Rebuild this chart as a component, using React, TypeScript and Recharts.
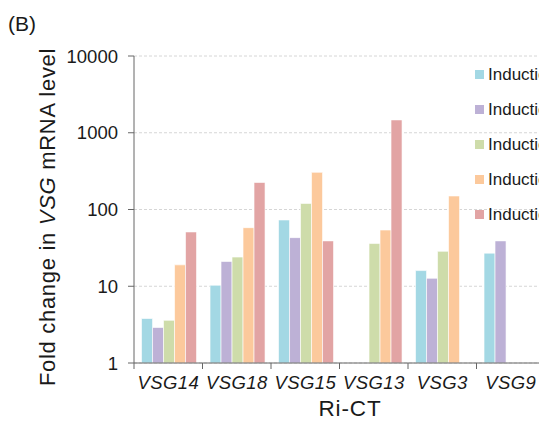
import React from 'react';
import { BarChart, Bar, XAxis, YAxis, CartesianGrid } from 'recharts';

const categories = ['VSG14', 'VSG18', 'VSG15', 'VSG13', 'VSG3', 'VSG9'];
const induction1 = [3.8, 10.3, 73, null, 16, 27];
const induction2 = [2.9, 21, 43, null, 12.7, 39];
const induction3 = [3.6, 24, 120, 36, 28.5, null];
const induction4 = [19, 58, 305, 54, 150, null];
const induction5 = [51, 225, 39, 1470, null, null];
const seriesNames = ['Induction day 1', 'Induction day 2', 'Induction day 3', 'Induction day 4', 'Induction day 5'];
const yTicks = [1, 10, 100, 1000, 10000];

const colors = ['#a3d8e4', '#bdb1d6', '#cedcaa', '#fcc99c', '#e2a4a4'];
const FONT = '"Liberation Sans", Arial, Helvetica, sans-serif';

const data = categories.map((c, i) => ({
  name: c,
  s1: induction1[i],
  s2: induction2[i],
  s3: induction3[i],
  s4: induction4[i],
  s5: induction5[i],
}));

const TICK_SIZE = 6;
const TICK_MARGIN = 4;

const XTick = (props: any) => {
  const { x, y, payload, index, visibleTicksCount } = props;
  const off = payload && typeof payload.offset === 'number' ? payload.offset : 0;
  const axisY = y - TICK_SIZE - TICK_MARGIN;
  const isLast = index === (visibleTicksCount ?? categories.length) - 1;
  return (
    <g>
      <line x1={x - off} x2={x - off} y1={axisY} y2={axisY + TICK_SIZE} stroke="#666" strokeWidth={1} />
      {isLast && (
        <line x1={x + off} x2={x + off} y1={axisY} y2={axisY + TICK_SIZE} stroke="#666" strokeWidth={1} />
      )}
      <text
        x={x}
        y={axisY + 26}
        textAnchor="middle"
        fontSize={18.5}
        letterSpacing={0.4}
        fontStyle="italic"
        fontFamily={FONT}
        fill="#1a1a1a"
      >
        {payload.value}
      </text>
    </g>
  );
};

export default function App() {
  return (
    <div style={{ width: 580, height: 409, overflow: 'hidden', position: 'relative' }}>
      <style>{'html, body { overflow: hidden; }'}</style>
      <div
        style={{
          position: 'absolute',
          left: 0,
          top: 4,
          fontFamily: FONT,
          fontSize: 21,
          color: '#1a1a1a',
          zIndex: 2,
        }}
      >
        (B)
      </div>
      <div
        style={{
          position: 'absolute',
          left: 467,
          top: 49,
          zIndex: 2,
          fontFamily: FONT,
          fontSize: 17,
          color: '#1a1a1a',
          whiteSpace: 'nowrap',
        }}
      >
        {seriesNames.map((n, i) => (
          <div key={n} style={{ height: 35, lineHeight: '35px', display: 'flex', alignItems: 'center' }}>
            <span style={{ display: 'inline-block', width: 9, height: 9, background: colors[i], marginRight: 4, flexShrink: 0 }} />
            <span>{n}</span>
          </div>
        ))}
      </div>
      <BarChart
        width={620}
        height={409}
        data={data}
        margin={{ top: 48, right: 83, left: 46, bottom: 2 }}
        barCategoryGap="11%"
        barGap={0}
      >
        <CartesianGrid vertical={false} stroke="#d6d6d6" strokeDasharray="3 2" />
        <XAxis
          dataKey="name"
          type="category"
          height={52}
          tickLine={false}
          tickSize={TICK_SIZE}
          tickMargin={TICK_MARGIN}
          axisLine={{ stroke: '#666' }}
          tick={<XTick />}
          interval={0}
          label={{
            content: () => (
              <text x={342} y={408} textAnchor="middle" fontSize={22.5} letterSpacing={0.9} fontFamily={FONT} fill="#1a1a1a">
                Ri-CT
              </text>
            ),
          }}
        />
        <YAxis
          type="number"
          scale="log"
          domain={[1, 10000]}
          ticks={yTicks}
          allowDataOverflow
          width={80}
          tickSize={TICK_SIZE}
          tickMargin={10}
          tickLine={{ stroke: '#666' }}
          axisLine={{ stroke: '#666' }}
          tick={{ fontSize: 18.5, fontFamily: FONT, fill: '#1a1a1a' }}
          interval={0}
          label={{
            content: () => (
              <text
                x={47}
                y={209}
                transform="rotate(-90 47 209)"
                textAnchor="middle"
                fontSize={22}
                letterSpacing={0.7}
                fontFamily={FONT}
                fill="#1a1a1a"
              >
                Fold change in <tspan fontStyle="italic">VSG</tspan> mRNA level
              </text>
            ),
          }}
        />
        <Bar dataKey="s1" name={seriesNames[0]} fill={colors[0]} stroke="#ffffff" strokeOpacity={0.6} strokeWidth={1} isAnimationActive={false} />
        <Bar dataKey="s2" name={seriesNames[1]} fill={colors[1]} stroke="#ffffff" strokeOpacity={0.6} strokeWidth={1} isAnimationActive={false} />
        <Bar dataKey="s3" name={seriesNames[2]} fill={colors[2]} stroke="#ffffff" strokeOpacity={0.6} strokeWidth={1} isAnimationActive={false} />
        <Bar dataKey="s4" name={seriesNames[3]} fill={colors[3]} stroke="#ffffff" strokeOpacity={0.6} strokeWidth={1} isAnimationActive={false} />
        <Bar dataKey="s5" name={seriesNames[4]} fill={colors[4]} stroke="#ffffff" strokeOpacity={0.6} strokeWidth={1} isAnimationActive={false} />
      </BarChart>
    </div>
  );
}
